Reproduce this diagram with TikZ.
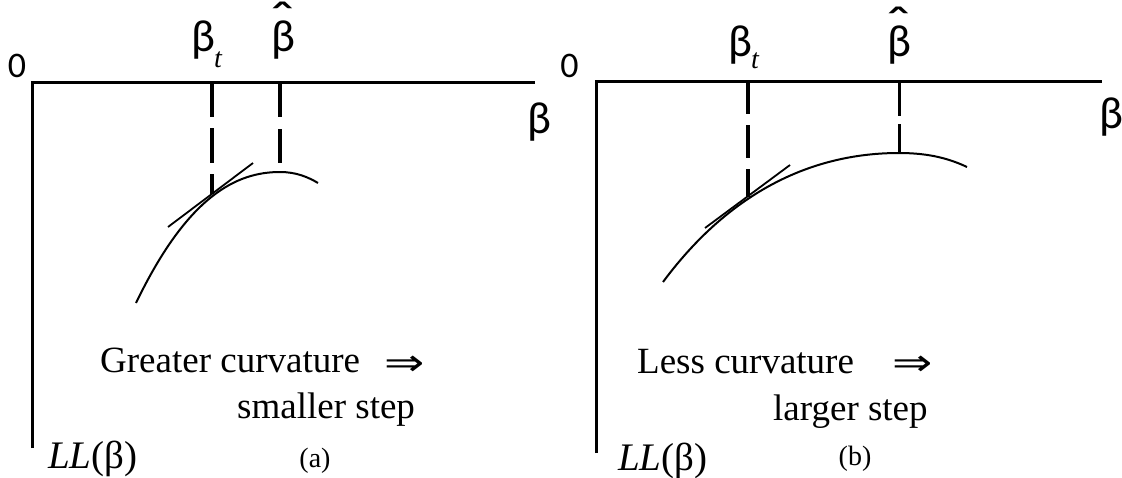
\documentclass[tikz,border=0pt]{standalone}
\usepackage{fontspec}
\usepackage{graphicx}
\setmainfont{Liberation Serif}
\newfontfamily\axisfont{Carlito}
\newfontfamily\arrowfont{DejaVu Sans}
\newcommand{\bhat}{\ooalign{β\cr\hidewidth\raisebox{13pt}{\scalebox{1.5}[1.2]{\char"02C6}}\hidewidth\cr}}
\newcommand{\impl}{\arrowfont\scalebox{1.3}[1]{⇒}}

\begin{document}
\begin{tikzpicture}[
    x=1pt, y=-1pt,
    axisline/.style={line width=3pt, line join=miter},
    guide/.style={line width=4.5pt, dash pattern=on 35pt off 11pt},
    llcurve/.style={line width=2pt},
    tanline/.style={line width=1.8pt},
    axlbl/.style={font=\axisfont\fontsize{45}{50}\selectfont, inner sep=0pt},
    subt/.style={font=\rmfamily\itshape\fontsize{28}{32}\selectfont, inner sep=0pt, anchor=base west},
    zero/.style={font=\axisfont\fontsize{36}{40}\selectfont, inner sep=0pt},
    note/.style={font=\fontsize{37}{44}\selectfont, inner sep=0pt, anchor=base west},
    llbl/.style={font=\fontsize{39}{46}\selectfont, inner sep=0pt, anchor=base west},
    tag/.style={font=\fontsize{28}{32}\selectfont, inner sep=0pt}
  ]
    \useasboundingbox (0,0) rectangle (1122,477);

    % (a) greater curvature
    \coordinate (oa) at (32,82);
    \coordinate (ya) at (32,448);
    \coordinate (xa) at (535,82);
    \coordinate (ka) at (212,82);
    \coordinate (ta) at (212,194);
    \coordinate (ha) at (280,82);
    \coordinate (pa) at (280,172);
    \draw[axisline] (ya) -- (oa) -- (xa);
    \draw[guide] (ka) -- (ta);
    \draw[guide, dash pattern=on 35pt off 12pt] (ha) -- (280,163);
    \draw[llcurve] (136,303) .. controls (188,195) and (237,172) .. (pa) .. controls (296,172) and (308,177) .. (318,183);
    \draw[tanline] (168,227) -- (253,163);

    \node[zero] (za) at (17,66) {0};
    \node[axlbl, anchor=base] (bta) at (203,51) {β};
    \node[subt] (sta) at (214,67) {t};
    \node[axlbl, anchor=base] (bha) at (283,51) {\bhat};
    \node[axlbl] (bxa) at (539,122) {β};
    \node[note] (ga) at (100,372) {Greater curvature};
    \node[note, anchor=center] (ia) at (405,366) {\impl};
    \node[note] (sa) at (237,418) {smaller step};
    \node[llbl] (lla) at (48,468) {\textit{LL}(β)};
    \node[tag] (ca) at (315,461) {(a)};

    % (b) less curvature
    \coordinate (ob) at (596,81);
    \coordinate (yb) at (596,453);
    \coordinate (xb) at (1102,81);
    \coordinate (kb) at (748,81);
    \coordinate (tb) at (748,197);
    \coordinate (hb) at (899,81);
    \coordinate (pb) at (899,153);
    \draw[axisline] (yb) -- (ob) -- (xb);
    \draw[guide, line width=4pt, dash pattern=on 33pt off 11pt] (kb) -- (tb);
    \draw[guide, line width=3pt, dash pattern=on 35pt off 8pt] (hb) -- (pb);
    \draw[llcurve] (663,282) .. controls (735,185) and (820,153) .. (pb) .. controls (930,153) and (950,159) .. (967,167);
    \draw[tanline] (705,228) -- (790,165);

    \node[zero] (zb) at (569.5,66) {0};
    \node[axlbl, anchor=base] (btb) at (740,56) {β};
    \node[subt] (stb) at (751,68) {t};
    \node[axlbl, anchor=base] (bhb) at (899,56) {\bhat};
    \node[axlbl] (bxb) at (1111,117) {β};
    \node[note] (lb) at (637,373) {Less curvature};
    \node[note, anchor=center] (ib) at (913,366) {\impl};
    \node[note] (rb) at (773,420) {larger step};
    \node[llbl] (llb) at (618,470) {\textit{LL}(β)};
    \node[tag] (cb) at (855,459) {(b)};
  \end{tikzpicture}
\end{document}
